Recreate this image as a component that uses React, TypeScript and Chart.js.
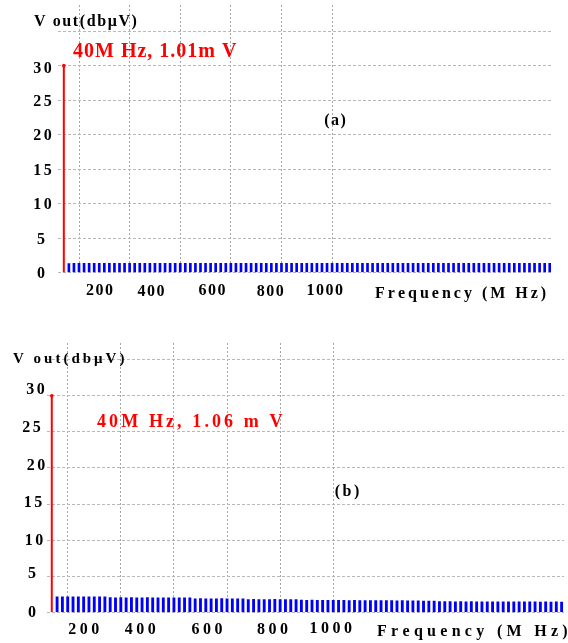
import React, { useEffect, useRef } from "react";
import { Chart, registerables } from "chart.js";

Chart.register(...registerables);

// ---------------- data ----------------
const FREQS_MHZ = [
  60, 80, 100, 120, 140, 160, 180, 200, 220, 240,
  260, 280, 300, 320, 340, 360, 380, 400, 420, 440,
  460, 480, 500, 520, 540, 560, 580, 600, 620, 640,
  660, 680, 700, 720, 740, 760, 780, 800, 820, 840,
  860, 880, 900, 920, 940, 960, 980, 1000, 1020, 1040,
  1060, 1080, 1100, 1120, 1140, 1160, 1180, 1200, 1220, 1240,
  1260, 1280, 1300, 1320, 1340, 1360, 1380, 1400, 1420, 1440,
  1460, 1480, 1500, 1520, 1540, 1560, 1580, 1600, 1620, 1640,
  1660, 1680, 1700, 1720, 1740, 1760, 1780, 1800, 1820, 1840,
  1860, 1880, 1900, 1920, 1940, 1960,
];

const LEVELS_A = [
  1.30, 1.34, 1.33, 1.34, 1.32, 1.34, 1.33, 1.34, 1.33, 1.32,
  1.34, 1.33, 1.32, 1.34, 1.33, 1.34, 1.32, 1.33, 1.34, 1.33,
  1.32, 1.34, 1.33, 1.34, 1.32, 1.33, 1.34, 1.33, 1.32, 1.34,
  1.33, 1.34, 1.32, 1.33, 1.34, 1.33, 1.32, 1.34, 1.33, 1.32,
  1.34, 1.33, 1.32, 1.34, 1.33, 1.34, 1.32, 1.33, 1.34, 1.33,
  1.32, 1.34, 1.33, 1.34, 1.32, 1.33, 1.34, 1.33, 1.32, 1.34,
  1.33, 1.34, 1.32, 1.33, 1.34, 1.33, 1.32, 1.34, 1.33, 1.32,
  1.34, 1.33, 1.32, 1.34, 1.33, 1.34, 1.32, 1.33, 1.34, 1.33,
  1.32, 1.34, 1.33, 1.34, 1.32, 1.33, 1.34, 1.33, 1.32, 1.34,
  1.33, 1.34, 1.32, 1.33, 1.34, 1.33,
];

const LEVELS_B = [
  2.15, 2.16, 2.15, 2.16, 2.15, 2.14, 2.16, 2.15, 2.14, 2.15,
  2.03, 2.02, 2.03, 2.02, 2.03, 2.01, 2.02, 2.03, 2.02, 2.02,
  2.01, 2.02, 2.01, 2.02, 2.01, 2.02,
  1.88, 1.89, 1.88, 1.87, 1.88, 1.89, 1.88, 1.87, 1.88, 1.88,
  1.77, 1.78, 1.77, 1.76, 1.77, 1.78, 1.77, 1.76, 1.77, 1.76,
  1.68, 1.67, 1.68, 1.66, 1.67, 1.66, 1.65, 1.66, 1.65, 1.64,
  1.65, 1.64, 1.63, 1.64, 1.62, 1.63, 1.62, 1.61, 1.60, 1.61,
  1.58, 1.59, 1.58, 1.57, 1.56, 1.55,
  1.48, 1.47, 1.48, 1.46, 1.47, 1.46, 1.47, 1.46, 1.45, 1.46,
  1.45, 1.44, 1.46, 1.45, 1.44, 1.45, 1.44, 1.45, 1.44, 1.43,
  1.44, 1.43, 1.44, 1.43,
];

const FUNDAMENTAL_MHZ = 40;
const FUNDAMENTAL_A = 30;
const FUNDAMENTAL_B = 30;

const X_TICKS = [200, 400, 600, 800, 1000];
const Y_TICKS = [0, 5, 10, 15, 20, 25, 30];
const Y_GRID = [0, 5, 10, 15, 20, 25, 30, 35];

const Y_TITLE = "V out(dbμV)";
const X_TITLE = "Frequency (M Hz)";
const NOTE_A = "40M Hz, 1.01m V";
const NOTE_B = "40M Hz, 1.06 m V";
const PANEL_A = "(a)";
const PANEL_B = "(b)";

// ---------------- drawing helpers ----------------
function drawSpaced(
  ctx: CanvasRenderingContext2D,
  text: string,
  x: number,
  y: number,
  font: string,
  spacing: number,
  align: "left" | "center",
  color: string
) {
  ctx.font = font;
  ctx.fillStyle = color;
  ctx.textAlign = "left";
  ctx.textBaseline = "alphabetic";
  const chars = Array.from(text);
  const widths = chars.map((c) => ctx.measureText(c).width);
  const total = widths.reduce((a, b) => a + b, 0) + spacing * (chars.length - 1);
  let cx = align === "center" ? x - total / 2 : x;
  chars.forEach((c, i) => {
    ctx.fillText(c, cx, y);
    cx += widths[i] + spacing;
  });
}

const SERIF = "'Liberation Serif', 'Times New Roman', serif";

const paperText = {
  id: "paperText",
  afterDraw(chart: any, _args: any, o: any) {
    const ctx: CanvasRenderingContext2D = chart.ctx;
    const xs = chart.scales.x;
    const ys = chart.scales.y;
    ctx.save();
    X_TICKS.forEach((v, i) => {
      drawSpaced(
        ctx,
        String(v),
        xs.getPixelForValue(v) + o.xNudge[i],
        o.xBase[i],
        o.xFont,
        o.xSpacing,
        "center",
        "#000"
      );
    });
    Y_TICKS.forEach((v, i) => {
      drawSpaced(
        ctx,
        String(v),
        o.yCenter[i],
        ys.getPixelForValue(v) + o.yNudge[i],
        o.yFont,
        o.ySpacing,
        "center",
        "#000"
      );
    });
    o.texts.forEach((t: any) => {
      drawSpaced(ctx, t.text, t.x, t.y, t.font, t.spacing, t.align, t.color);
    });
    ctx.restore();
  },
};

function makeConfig(p: any) {
  return {
    type: "bar",
    data: {
      datasets: [
        {
          type: "bar",
          data: FREQS_MHZ.map((f, i) => ({ x: f, y: p.levels[i] })),
          backgroundColor: "#0000ff",
          borderWidth: 0,
          barThickness: p.barW,
          order: 2,
        },
        {
          type: "line",
          data: [
            { x: FUNDAMENTAL_MHZ, y: 0 },
            { x: FUNDAMENTAL_MHZ, y: p.fundamental },
          ],
          borderColor: "#ff0000",
          borderWidth: 2,
          pointRadius: [0, 1.8],
          pointBackgroundColor: "#ff0000",
          pointBorderWidth: 0,
          order: 1,
        },
      ],
    },
    options: {
      animation: false,
      responsive: false,
      devicePixelRatio: 1,
      layout: { padding: { top: p.top, right: p.right, left: 0, bottom: 0 } },
      plugins: {
        legend: { display: false },
        tooltip: { enabled: false },
        paperText: p.text,
      },
      scales: {
        x: {
          type: "linear",
          min: p.xMin,
          max: p.xMax,
          offset: false,
          afterBuildTicks: (s: any) => {
            s.ticks = X_TICKS.map((v) => ({ value: v }));
          },
          afterFit: (s: any) => {
            s.height = p.xAxisH;
          },
          ticks: { display: false },
          grid: { color: "#a6a6a6", lineWidth: 1, drawTicks: false },
          border: { display: false, dash: [2, 2] },
        },
        y: {
          type: "linear",
          min: 0,
          max: p.yMax,
          afterBuildTicks: (s: any) => {
            s.ticks = Y_GRID.map((v) => ({ value: v }));
          },
          afterFit: (s: any) => {
            s.width = p.left;
          },
          ticks: { display: false },
          grid: { color: "#b8b8b8", lineWidth: 1, drawTicks: false },
          border: { display: false, dash: [3, 2] },
        },
      },
    },
    plugins: [paperText],
  };
}

const PANEL_A_CFG = {
  height: 320,
  levels: LEVELS_A,
  fundamental: FUNDAMENTAL_A,
  barW: 2,
  top: 5,
  right: 17,
  left: 58,
  xAxisH: 47.5,
  xMin: 17,
  xMax: 1965,
  yMax: 38.8,
  text: {
    xNudge: [-4.8, -4, 6.5, 14, 18],
    xBase: [295, 296, 294.5, 296, 295],
    xFont: `bold 16px ${SERIF}`,
    xSpacing: 1.5,
    yCenter: [41, 41, 42.5, 42.5, 42.5, 42.5, 42.5],
    yNudge: [5.3, 5.5, 5.5, 5.5, 5.5, 6, 7],
    yFont: `bold 16px ${SERIF}`,
    ySpacing: 2.5,
    texts: [
      { text: Y_TITLE, x: 34, y: 26, font: `bold 16px ${SERIF}`, spacing: 1.6, align: "left", color: "#000" },
      { text: NOTE_A, x: 73, y: 57, font: `bold 20px ${SERIF}`, spacing: 1.0, align: "left", color: "#ff0000" },
      { text: PANEL_A, x: 335, y: 125, font: `bold 16px ${SERIF}`, spacing: 1.5, align: "center", color: "#000" },
      { text: X_TITLE, x: 375, y: 297.5, font: `bold 16px ${SERIF}`, spacing: 3, align: "left", color: "#000" },
    ],
  },
};

const PANEL_B_CFG = {
  height: 323,
  levels: LEVELS_B,
  fundamental: FUNDAMENTAL_B,
  barW: 2.2,
  top: 23,
  right: 0,
  left: 47,
  xAxisH: 30.7,
  xMin: 22,
  xMax: 1969,
  yMax: 37.3,
  text: {
    xNudge: [-10.6, -7, 6.4, 19, 24],
    xBase: [314, 314, 314, 314, 312.7],
    xFont: `bold 16px ${SERIF}`,
    xSpacing: 3.5,
    yCenter: [32, 32, 34, 33, 36, 31.5, 35.5],
    yNudge: [4.7, 1.8, 5.3, 3.4, 2.5, 0.6, -1.3],
    yFont: `bold 16px ${SERIF}`,
    ySpacing: 2.5,
    texts: [
      { text: Y_TITLE, x: 13, y: 43, font: `bold 15px ${SERIF}`, spacing: 3, align: "left", color: "#000" },
      { text: NOTE_B, x: 97, y: 106.7, font: `bold 18px ${SERIF}`, spacing: 3.1, align: "left", color: "#ff0000" },
      { text: PANEL_B, x: 347, y: 176, font: `bold 16px ${SERIF}`, spacing: 2.5, align: "center", color: "#000" },
      { text: X_TITLE, x: 377, y: 316, font: `bold 16px ${SERIF}`, spacing: 4.3, align: "left", color: "#000" },
    ],
  },
};

function SpectrumPanel({ cfg }: { cfg: any }) {
  const ref = useRef<HTMLCanvasElement>(null);
  useEffect(() => {
    if (!ref.current) return;
    const chart = new Chart(ref.current, makeConfig(cfg) as any);
    return () => chart.destroy();
  }, [cfg]);
  return (
    <canvas
      ref={ref}
      width={568}
      height={cfg.height}
      style={{ display: "block", width: 568, height: cfg.height }}
    />
  );
}

export default function App() {
  useEffect(() => {
    document.body.style.margin = "0";
    document.body.style.background = "#ffffff";
  }, []);
  return (
    <div style={{ width: 568, height: 643, background: "#fff", overflow: "hidden" }}>
      <SpectrumPanel cfg={PANEL_A_CFG} />
      <SpectrumPanel cfg={PANEL_B_CFG} />
    </div>
  );
}
